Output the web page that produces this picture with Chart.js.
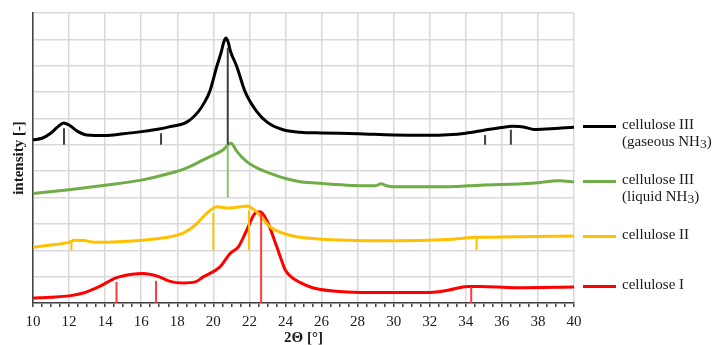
<!DOCTYPE html>
<html>
<head>
<meta charset="utf-8">
<script src="https://cdn.jsdelivr.net/npm/chart.js@4"></script>
<style>
  body { margin: 0; background: #fff; }
  #wrap { position: relative; width: 715px; height: 345px; }
  .leg { position: absolute; left: 583px; font-family: "Liberation Serif", serif; font-size: 15px; color: #1a1a1a; }
  .leg .ln { position: absolute; left: 0; width: 33px; height: 3px; }
  .leg .tx { position: absolute; left: 39px; white-space: nowrap; line-height: 17px; }
  .leg sub { font-size: 0.9em; vertical-align: -2px; line-height: 0; }
</style>
</head>
<body>
<div id="wrap">
  <canvas id="xrdChart" width="715" height="345"></canvas>
  <div class="leg" style="top:125px"><div class="ln" style="background:#000"></div><div class="tx" style="top:-9px">cellulose III<br>(gaseous NH<sub>3</sub>)</div></div>
  <div class="leg" style="top:180px"><div class="ln" style="background:#70ad47"></div><div class="tx" style="top:-9px">cellulose III<br>(liquid NH<sub>3</sub>)</div></div>
  <div class="leg" style="top:235px"><div class="ln" style="background:#ffc000"></div><div class="tx" style="top:-9px">cellulose II</div></div>
  <div class="leg" style="top:285px"><div class="ln" style="background:#ff0000"></div><div class="tx" style="top:-9px">cellulose I</div></div>
</div>
<script>
// x axis range and tick labels
var xMin = 10, xMax = 40;
var xLabels = [10, 12, 14, 16, 18, 20, 22, 24, 26, 28, 30, 32, 34, 36, 38, 40];

// cellulose III (gaseous NH3) - offset curve
var gaseousX = [10, 10.5, 11, 11.4, 11.7, 12, 12.5, 13, 14, 15, 16, 17, 17.6, 18.5, 19.17, 19.5, 19.8, 20.19, 20.45, 20.58, 20.7, 20.82, 20.95, 21.3, 21.76, 22.41, 23, 23.87, 24.8, 26, 28, 30, 32, 33, 34, 35, 36, 36.6, 37.2, 37.8, 38.5, 39.3, 40];
var gaseousY = [6.19, 6.25, 6.45, 6.7, 6.83, 6.75, 6.5, 6.37, 6.35, 6.42, 6.5, 6.6, 6.69, 6.85, 7.26, 7.6, 8.02, 8.97, 9.55, 9.9, 10.05, 9.9, 9.55, 8.97, 8.02, 7.26, 6.85, 6.57, 6.48, 6.45, 6.42, 6.37, 6.36, 6.38, 6.44, 6.55, 6.66, 6.7, 6.68, 6.58, 6.6, 6.64, 6.67];

// cellulose III (liquid NH3)
var liquidX = [10, 12, 14, 16, 17.6, 18.5, 19.44, 20.55, 20.98, 21.3, 21.85, 22.5, 23.15, 24, 24.8, 25.5, 27.4, 29, 29.3, 29.6, 30, 33, 34.8, 37.7, 39.2, 40];
var liquidY = [4.15, 4.3, 4.47, 4.66, 4.92, 5.12, 5.43, 5.81, 6.06, 5.75, 5.36, 5.1, 4.92, 4.72, 4.6, 4.56, 4.47, 4.45, 4.52, 4.45, 4.41, 4.41, 4.47, 4.54, 4.64, 4.59];

// cellulose II
var cell2X = [10, 11, 12, 12.3, 12.8, 13.5, 15.5, 17, 17.6, 18.3, 19, 19.44, 19.8, 20.19, 20.9, 21.5, 21.85, 22.4, 23.15, 23.9, 24.8, 25.5, 27.4, 30, 33, 34.5, 36.7, 40];
var cell2Y = [2.12, 2.2, 2.3, 2.38, 2.37, 2.3, 2.35, 2.45, 2.51, 2.64, 2.95, 3.27, 3.5, 3.65, 3.6, 3.65, 3.68, 3.46, 2.89, 2.64, 2.49, 2.45, 2.38, 2.36, 2.41, 2.49, 2.51, 2.54];

// cellulose I
var cell1X = [10, 11, 12, 12.8, 13.7, 14.6, 15.5, 16.1, 16.9, 17.6, 18.3, 19, 19.44, 20.37, 20.93, 21.39, 21.85, 22.31, 22.59, 22.96, 23.52, 23.75, 23.98, 24.3, 24.8, 25.5, 27.4, 29.3, 32, 33, 34.1, 34.8, 36.7, 40];
var cell1Y = [0.19, 0.22, 0.27, 0.38, 0.63, 0.95, 1.09, 1.12, 1.02, 0.82, 0.76, 0.8, 0.99, 1.37, 1.88, 2.13, 2.76, 3.4, 3.46, 3.14, 2.13, 1.68, 1.26, 1.0, 0.78, 0.58, 0.42, 0.4, 0.4, 0.48, 0.63, 0.63, 0.58, 0.61];

// reference reflections (position, top of stick, base level)
var gaseousRefPos = [11.72, 17.1, 20.8, 35.07, 36.5];
var gaseousRefTop = [6.63, 6.44, 9.68, 6.37, 6.57];
var gaseousBase = 6;
var liquidRefPos = [20.8];
var liquidRefTop = [6.0];
var liquidBase = 4;
var cell2RefPos = [12.13, 20.0, 21.98, 34.6];
var cell2RefTop = [2.32, 3.4, 3.52, 2.51];
var cell2Base = 2;
var cell1RefPos = [14.63, 16.82, 22.65, 34.3];
var cell1RefTop = [0.8, 0.84, 3.4, 0.61];
var cell1Base = 0;

function pts(xs, ys) {
  return xs.map(function (x, i) { return { x: x, y: ys[i] }; });
}
// sticks: base -> top, then a gap
function sticks(pos, tops, base) {
  var out = [];
  pos.forEach(function (p, i) {
    out.push({ x: p, y: base }, { x: p, y: tops[i] }, { x: p, y: null });
  });
  return out;
}
function curve(label, xs, ys, color) {
  return { label: label, data: pts(xs, ys), borderColor: color, borderWidth: 3, pointRadius: 0, cubicInterpolationMode: 'monotone', order: 2 };
}
function stickSet(label, pos, tops, base, color) {
  return { label: label, data: sticks(pos, tops, base), borderColor: color, borderWidth: 2, pointRadius: 0, tension: 0, spanGaps: false, order: 1 };
}

var serif = '"Liberation Serif", "Times New Roman", serif';

document.addEventListener('DOMContentLoaded', function () {
  var ctx = document.getElementById('xrdChart').getContext('2d');
  new Chart(ctx, {
    type: 'line',
    data: {
      datasets: [
        curve('cellulose III (gaseous NH3)', gaseousX, gaseousY, '#000000'),
        curve('cellulose III (liquid NH3)', liquidX, liquidY, '#70ad47'),
        curve('cellulose II', cell2X, cell2Y, '#ffc000'),
        curve('cellulose I', cell1X, cell1Y, '#ff0000'),
        stickSet('ref gaseous', gaseousRefPos, gaseousRefTop, gaseousBase, '#404040'),
        stickSet('ref liquid', liquidRefPos, liquidRefTop, liquidBase, '#8cc46a'),
        stickSet('ref II', cell2RefPos, cell2RefTop, cell2Base, '#ffc000'),
        stickSet('ref I', cell1RefPos, cell1RefTop, cell1Base, '#ff3b3b')
      ]
    },
    options: {
      responsive: false,
      animation: false,
      layout: { padding: { top: 13, right: 141, left: 0, bottom: 0 } },
      plugins: { legend: { display: false }, tooltip: { enabled: false } },
      scales: {
        x: {
          type: 'linear',
          min: xMin,
          max: xMax,
          afterFit: function (s) { s.height = 42; },
          ticks: {
            stepSize: 0.5,
            autoSkip: false,
            maxRotation: 0,
            padding: 6,
            color: '#1a1a1a',
            font: { family: serif, size: 15 },
            callback: function (v) { return xLabels.indexOf(v) >= 0 ? String(v) : ''; }
          },
          grid: {
            color: function (c) { return c.tick && xLabels.indexOf(c.tick.value) >= 0 ? '#d9d9d9' : 'rgba(0,0,0,0)'; },
            lineWidth: 1.5,
            tickColor: '#404040',
            tickLength: 4
          },
          border: { color: '#404040', width: 1.5 },
          title: {
            display: true,
            text: '2Θ [°]',
            color: '#1a1a1a',
            font: { family: serif, size: 15, weight: 'bold' },
            padding: { top: 0, bottom: -2 }
          }
        },
        y: {
          min: 0,
          max: 11,
          afterFit: function (s) { s.width = 33; },
          ticks: { stepSize: 1, display: false },
          grid: { color: '#d9d9d9', lineWidth: 1.5, drawTicks: false },
          border: { color: '#404040', width: 1.5 },
          title: {
            display: true,
            text: 'intensity [-]',
            color: '#1a1a1a',
            font: { family: serif, size: 15, weight: 'bold' },
            padding: { top: 10, bottom: 0 }
          }
        }
      }
    }
  });
});
</script>
</body>
</html>
